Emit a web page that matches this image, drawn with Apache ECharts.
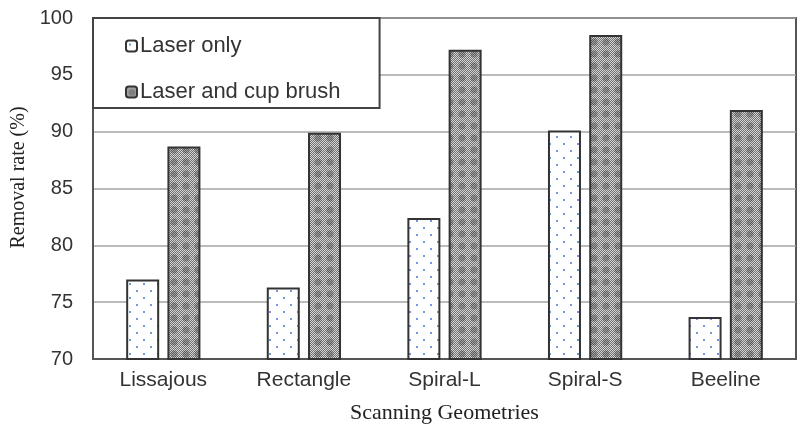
<!DOCTYPE html>
<html>
<head>
<meta charset="utf-8">
<script src="https://cdn.jsdelivr.net/npm/echarts@6/dist/echarts.min.js"></script>
<style>
  html, body { margin: 0; padding: 0; background: #fff; }
  #chart { width: 799px; height: 440px; }
</style>
</head>
<body>
<div id="chart"></div>
<script>
var categories  = ['Lissajous', 'Rectangle', 'Spiral-L', 'Spiral-S', 'Beeline'];
var laserOnly   = [77.0, 76.3, 82.4, 90.1, 73.7];
var laserBrush  = [88.7, 89.9, 97.2, 98.5, 91.9];
var seriesNames = ['Laser only', 'Laser and cup brush'];

// sparse blue dots on white
function dotPattern() {
    var c = document.createElement('canvas');
    c.width = 14; c.height = 14;
    var ctx = c.getContext('2d');
    ctx.fillStyle = '#ffffff';
    ctx.fillRect(0, 0, 14, 14);
    ctx.fillStyle = '#7696e0';
    ctx.fillRect(3, 3, 2, 2);
    ctx.fillRect(10, 10, 2, 2);
    return c;
}

// dense grey checker with darker blotches
function checkerPattern() {
    var c = document.createElement('canvas');
    c.width = 12; c.height = 12;
    var ctx = c.getContext('2d');
    for (var x = 0; x < 12; x++) {
        for (var y = 0; y < 12; y++) {
            ctx.fillStyle = (x + y) % 2 === 0 ? '#d6d6d6' : '#707070';
            ctx.fillRect(x, y, 1, 1);
        }
    }
    ctx.fillStyle = 'rgba(60,60,60,0.35)';
    ctx.beginPath();
    ctx.arc(6, 6, 3.5, 0, Math.PI * 2);
    ctx.fill();
    return c;
}

var myChart = echarts.init(document.getElementById('chart'));

var option = {
    backgroundColor: '#ffffff',
    animation: false,
    grid: {
        left: 93,
        right: 3,
        top: 18,
        bottom: 81,
        show: true,
        borderColor: '#555',
        borderWidth: 2
    },
    legend: {
        data: seriesNames,
        orient: 'vertical',
        left: 93,
        top: 18,
        padding: [17, 39, 5, 32],
        itemGap: 24,
        itemWidth: 11,
        itemHeight: 11,
        backgroundColor: '#fff',
        borderColor: '#444',
        borderWidth: 2,
        textStyle: {
            fontFamily: 'Liberation Sans',
            fontSize: 22,
            color: '#333',
            padding: [0, 0, 0, -2]
        }
    },
    xAxis: {
        type: 'category',
        data: categories,
        name: 'Scanning Geometries',
        nameLocation: 'middle',
        nameGap: 43,
        nameTextStyle: {
            fontFamily: 'Liberation Serif',
            fontSize: 22,
            color: '#222'
        },
        axisLine: { lineStyle: { color: '#555', width: 2 } },
        axisTick: { show: false },
        axisLabel: {
            margin: 11,
            fontFamily: 'Liberation Sans',
            fontSize: 21,
            color: '#333'
        }
    },
    yAxis: {
        type: 'value',
        min: 70,
        max: 100,
        interval: 5,
        name: 'Removal rate (%)',
        nameLocation: 'middle',
        nameGap: 57,
        nameTextStyle: {
            fontFamily: 'Liberation Serif',
            fontSize: 20,
            color: '#222',
            padding: [0, 0, 0, 22]
        },
        axisLine: { show: true, lineStyle: { color: '#555', width: 2 } },
        axisTick: { show: false },
        axisLabel: {
            margin: 20,
            fontFamily: 'Liberation Sans',
            fontSize: 20,
            color: '#333'
        },
        splitLine: { lineStyle: { color: '#a4a4a4', width: 1.5 } }
    },
    series: [
        {
            name: seriesNames[0],
            type: 'bar',
            data: laserOnly,
            barWidth: 33,
            barGap: '25%',
            itemStyle: {
                color: { image: dotPattern(), repeat: 'repeat' },
                borderColor: '#333',
                borderWidth: 2
            }
        },
        {
            name: seriesNames[1],
            type: 'bar',
            data: laserBrush,
            barWidth: 33,
            itemStyle: {
                color: { image: checkerPattern(), repeat: 'repeat' },
                borderColor: '#333',
                borderWidth: 2
            }
        }
    ]
};

if (option && typeof option === 'object') {
    myChart.setOption(option, true);
}
</script>
</body>
</html>
